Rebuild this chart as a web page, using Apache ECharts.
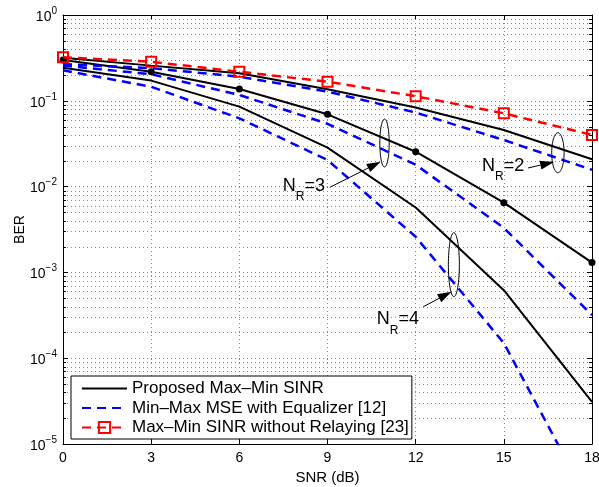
<!DOCTYPE html>
<html><head><meta charset="utf-8">
<script src="https://cdn.jsdelivr.net/npm/echarts@6/dist/echarts.min.js"></script>
<style>html,body{margin:0;padding:0;background:#fff}#c{width:599px;height:487px}</style>
</head><body><div id="c"></div>
<script>
// ---- data ----
const snr = [0, 3, 6, 9, 12, 15, 18];
const xTicks = [0, 3, 6, 9, 12, 15, 18];
const yTickExponents = [0, -1, -2, -3, -4, -5];
const proposedNR2 = [0.318, 0.257, 0.209, 0.136, 0.0835, 0.0457, 0.0208];
const proposedNR3 = [0.299, 0.218, 0.137, 0.0696, 0.0255, 0.0065, 0.0013];
const proposedNR4 = [0.243, 0.172, 0.0855, 0.0285, 0.0057, 0.00062, 0.000031];
const minmaxNR2 = [0.268, 0.240, 0.191, 0.128, 0.073, 0.0349, 0.0157];
const minmaxNR3 = [0.257, 0.204, 0.117, 0.0540, 0.0180, 0.0033, 0.000318];
const minmaxNR4 = [0.227, 0.146, 0.0625, 0.0204, 0.0026, 0.00015, 0.0000018];
const noRelay = [0.321, 0.285, 0.218, 0.167, 0.113, 0.0715, 0.040];
const legendNames = ['Proposed Max\u2013Min SINR', 'Min\u2013Max MSE with Equalizer [12]', 'Max\u2013Min SINR without Relaying [23]'];
const annotationLabels = ['2', '3', '4'];
const annotationEllipse = [[16.84, 0.0248], [10.94, 0.0322], [13.30, 0.00123]];
const annotationText = [[14.26, 0.01786], [7.48, 0.01044], [10.68, 0.000292]];
const annotationFrom = [[15.82, 0.01647], [9.08, 0.00981], [12.26, 0.000398]];
const annotationTo = [[16.71, 0.01935], [10.81, 0.0195], [13.22, 0.000596]];
// ---- styles ----
const FONT = 'Liberation Sans, Arial, Helvetica, sans-serif';
const ellipseRadii = [[6.2, 20], [4.7, 24], [5.5, 32]];

const pairs = arr => snr.map((x, i) => [x, arr[i]]);
const blackLine = {color: '#000', width: 2, type: 'solid'};
const blueLine = {color: '#0000ff', width: 2.5, type: [9, 6]};
const redLine = {color: '#ff0000', width: 2.5, type: [9, 6]};

function supLabel(v) {
  const e = Math.round(Math.log10(v));
  return '{b|10}{s|' + (e === 0 ? '0' : '\u2212' + (-e)) + '}';
}
const yMin = Math.pow(10, yTickExponents[yTickExponents.length - 1]);
const yMax = Math.pow(10, yTickExponents[0]);

const option = {
  animation: false,
  backgroundColor: '#fff',
  grid: {left: 63, right: 7, top: 15, bottom: 43, containLabel: false, outerBoundsMode: 'none'},
  legend: {
    orient: 'vertical', left: 71, top: 376,
    data: [
      {name: legendNames[0], itemStyle: {opacity: 0}},
      {name: legendNames[1], itemStyle: {opacity: 0}},
      {name: legendNames[2]}
    ],
    backgroundColor: '#fff', borderColor: '#000', borderWidth: 1, borderRadius: 0,
    padding: [4, 3, 3, 10], itemGap: 2.5, itemWidth: 45, itemHeight: 14,
    textStyle: {fontSize: 17, lineHeight: 17, color: '#000', fontFamily: FONT},
    selectedMode: false
  },
  xAxis: [{
    type: 'value', min: xTicks[0], max: xTicks[xTicks.length - 1], interval: xTicks[1] - xTicks[0],
    position: 'bottom',
    axisLine: {show: true, onZero: false, lineStyle: {color: '#000', width: 1}},
    axisTick: {show: true, inside: true, length: 5, lineStyle: {color: '#000'}},
    axisLabel: {color: '#000', fontSize: 14, fontFamily: FONT, margin: 7},
    splitLine: {show: true, lineStyle: {color: '#888', type: [1, 3], width: 1}},
    name: 'SNR (dB)', nameLocation: 'middle', nameGap: 24,
    nameTextStyle: {color: '#000', fontSize: 15, fontFamily: FONT}
  }, {
    type: 'value', min: xTicks[0], max: xTicks[xTicks.length - 1], interval: xTicks[1] - xTicks[0],
    position: 'top',
    axisLine: {show: true, onZero: false, lineStyle: {color: '#000', width: 1}},
    axisTick: {show: true, inside: true, length: 5, lineStyle: {color: '#000'}},
    axisLabel: {show: false}, splitLine: {show: false}
  }],
  yAxis: [{
    type: 'log', logBase: 10, min: yMin, max: yMax,
    position: 'left',
    axisLine: {show: true, onZero: false, lineStyle: {color: '#000', width: 1}},
    axisTick: {show: true, inside: true, length: 5, lineStyle: {color: '#000'}},
    axisLabel: {
      formatter: supLabel, margin: 6,
      rich: {
        b: {fontSize: 14, color: '#000', fontFamily: FONT, verticalAlign: 'bottom'},
        s: {fontSize: 10, color: '#000', fontFamily: FONT, verticalAlign: 'bottom', padding: [0, 0, 8, 0]}
      }
    },
    splitLine: {show: true, lineStyle: {color: '#888', type: [1, 3], width: 1}},
    name: 'BER', nameLocation: 'middle', nameGap: 36, nameRotate: 90, nameMoveOverlap: false,
    nameTextStyle: {color: '#000', fontSize: 14, fontFamily: FONT}
  }, {
    type: 'log', logBase: 10, min: yMin, max: yMax,
    position: 'right',
    axisLine: {show: true, onZero: false, lineStyle: {color: '#000', width: 1}},
    axisTick: {show: true, inside: true, length: 5, lineStyle: {color: '#000'}},
    axisLabel: {show: false}, splitLine: {show: false}
  }],
  series: [
    {name: legendNames[0], type: 'line', data: pairs(proposedNR2), symbol: 'none', lineStyle: blackLine, itemStyle: {color: '#000'}, z: 3},
    {name: legendNames[0], type: 'line', data: pairs(proposedNR3), symbol: 'circle', symbolSize: 7, lineStyle: blackLine, itemStyle: {color: '#000'}, z: 3},
    {name: legendNames[0], type: 'line', data: pairs(proposedNR4), symbol: 'none', lineStyle: blackLine, itemStyle: {color: '#000'}, z: 3},
    {name: legendNames[1], type: 'line', data: pairs(minmaxNR2), symbol: 'none', lineStyle: blueLine, itemStyle: {color: '#0000ff'}, z: 3},
    {name: legendNames[1], type: 'line', data: pairs(minmaxNR3), symbol: 'none', lineStyle: blueLine, itemStyle: {color: '#0000ff'}, z: 3},
    {name: legendNames[1], type: 'line', data: pairs(minmaxNR4), symbol: 'none', lineStyle: blueLine, itemStyle: {color: '#0000ff'}, z: 3},
    {name: legendNames[2], type: 'line', data: pairs(noRelay), symbol: 'rect', symbolSize: 10,
      lineStyle: redLine, itemStyle: {color: 'transparent', borderColor: '#ff0000', borderWidth: 2}, z: 4}
  ]
};

const chart = echarts.init(document.getElementById('c'), null, {renderer: 'canvas'});
chart.setOption(option);

const toPx = (x, y) => chart.convertToPixel({xAxisIndex: 0, yAxisIndex: 0}, [x, y]);
const g = [];
const xl = toPx(xTicks[0], 1)[0], xr = toPx(xTicks[xTicks.length - 1], 1)[0];
for (let k = yTickExponents.length - 1; k > 0; k--) {
  const e = yTickExponents[k];
  for (let m = 2; m <= 9; m++) {
    const v = m * Math.pow(10, e);
    const y = Math.round(toPx(0, v)[1]) + 0.5;
    g.push({type: 'line', silent: true, z: 1, shape: {x1: xl, y1: y, x2: xr, y2: y},
      style: {stroke: '#888', lineWidth: 1, lineDash: [1, 3]}});
    g.push({type: 'line', silent: true, z: 5, shape: {x1: xl, y1: y, x2: xl + 3, y2: y}, style: {stroke: '#000', lineWidth: 1}});
    g.push({type: 'line', silent: true, z: 5, shape: {x1: xr - 3, y1: y, x2: xr, y2: y}, style: {stroke: '#000', lineWidth: 1}});
  }
}
annotationLabels.forEach((lab, i) => {
  const c = toPx(annotationEllipse[i][0], annotationEllipse[i][1]);
  const [rx, ry] = ellipseRadii[i];
  const pts = [];
  for (let t = 0; t < 64; t++) {
    const a = t / 64 * Math.PI * 2;
    pts.push([c[0] + rx * Math.cos(a), c[1] + ry * Math.sin(a)]);
  }
  g.push({type: 'polygon', silent: true, z: 6, shape: {points: pts}, style: {fill: 'transparent', stroke: '#000', lineWidth: 1}});
  const p1 = toPx(annotationFrom[i][0], annotationFrom[i][1]);
  const p2 = toPx(annotationTo[i][0], annotationTo[i][1]);
  const dx = p2[0] - p1[0], dy = p2[1] - p1[1], L = Math.hypot(dx, dy), ux = dx / L, uy = dy / L;
  const hl = 14, hw = 4.5;
  const bx = p2[0] - ux * hl, by = p2[1] - uy * hl;
  g.push({type: 'line', silent: true, z: 6, shape: {x1: p1[0], y1: p1[1], x2: bx, y2: by}, style: {stroke: '#000', lineWidth: 1}});
  g.push({type: 'polygon', silent: true, z: 6, shape: {points: [[p2[0], p2[1]], [bx - uy * hw, by + ux * hw], [bx + uy * hw, by - ux * hw]]}, style: {fill: '#000'}});
  const tp = toPx(annotationText[i][0], annotationText[i][1]);
  g.push({type: 'text', silent: true, z: 6, x: tp[0], y: tp[1] - 8,
    style: {text: '{n|N}{r|R}{n|=' + lab + '}', align: 'left', verticalAlign: 'top',
      rich: {
        n: {fontSize: 18, fontFamily: FONT, fill: '#000', verticalAlign: 'top'},
        r: {fontSize: 12, fontFamily: FONT, fill: '#000', verticalAlign: 'top', padding: [14, 0, 0, 0]}
      }}});
});
chart.setOption({graphic: {elements: g}});
</script>
</body></html>
